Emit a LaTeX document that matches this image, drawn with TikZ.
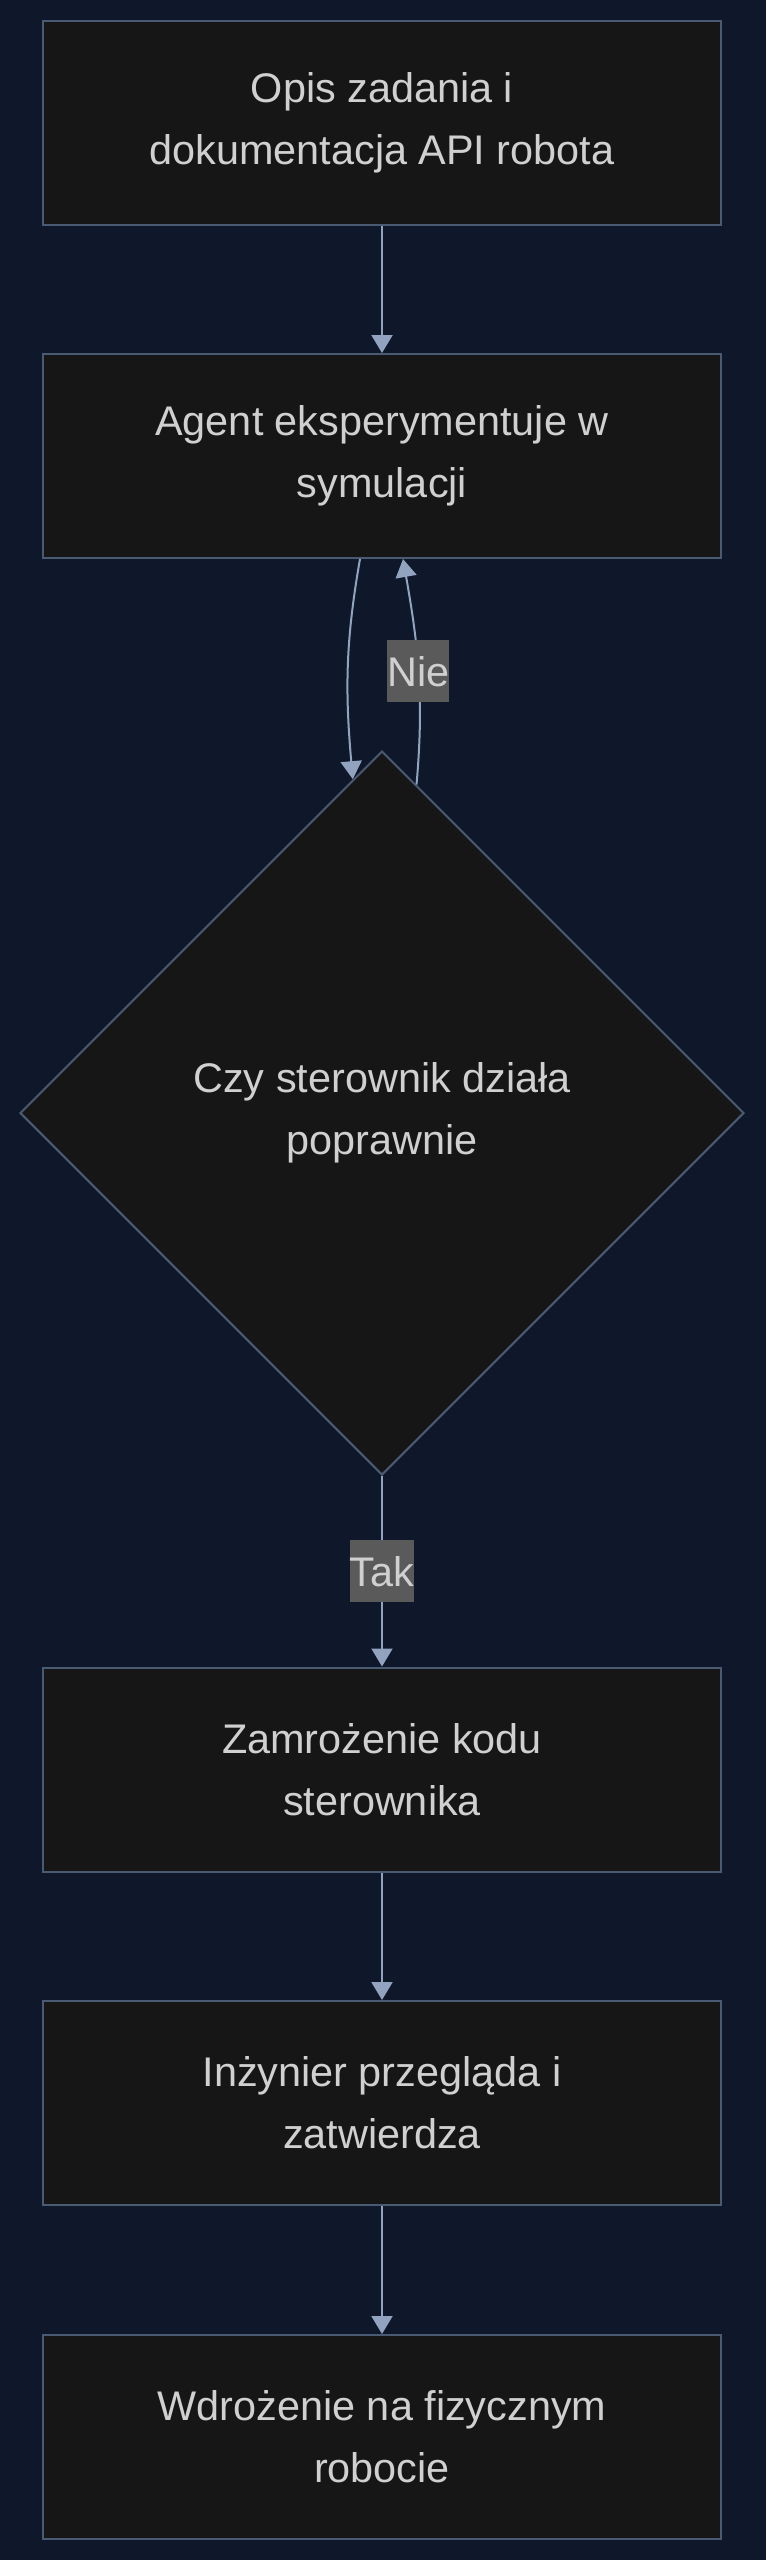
\documentclass[tikz,border=0pt]{standalone}
\usepackage{fontspec}
\setmainfont{Liberation Sans}
\usetikzlibrary{shapes.geometric,arrows.meta}
\definecolor{bgnavy}{HTML}{0F172A}
\definecolor{boxfill}{HTML}{161616}
\definecolor{boxline}{HTML}{4A5A73}
\definecolor{arrline}{HTML}{91A3BF}
\definecolor{txtgray}{HTML}{D0D0D0}
\definecolor{lblfill}{HTML}{5A5A5A}
\begin{document}
\begin{tikzpicture}[x=1pt,y=1pt,
  txt/.style={text=txtgray,font=\fontsize{41.4}{62}\selectfont},
  box/.style={rectangle,draw=boxline,fill=boxfill,line width=2pt,minimum width=678pt,minimum height=204pt,align=center,txt},
  check/.style={diamond,draw=boxline,fill=boxfill,line width=2pt,minimum width=724pt,minimum height=724pt,inner sep=0pt,align=center,txt},
  lbl/.style={fill=lblfill,inner sep=0pt,minimum height=62pt,txt},
  arr/.style={draw=arrline,line width=2pt,-{Triangle[width=21pt,length=18pt]}}]
\fill[bgnavy] (0,0) rectangle (766,-2560);
\node[box] (opis) at (382,-122.5) {Opis zadania i\\dokumentacja API robota};
\node[box] (agent) at (382,-456) {Agent eksperymentuje w\\symulacji};
\node[check] (czy) at (382,-1113) {Czy sterownik działa\\poprawnie};
\node[box] (zamr) at (382,-1769.5) {Zamrożenie kodu\\sterownika};
\node[box] (inz) at (382,-2103) {Inżynier przegląda i\\zatwierdza};
\node[box] (wdr) at (382,-2437) {Wdrożenie na fizycznym\\robocie};
\draw[arr] (opis) -- (agent);
\draw[arr] ([xshift=-22pt]agent.south) to[out=-100,in=95] (czy.95.5);
\draw[arr] (czy.84.5) to[out=85,in=-80] node[lbl] {Nie} ([xshift=21pt]agent.south);
\draw[arr] (czy) -- node[lbl] {Tak} (zamr);
\draw[arr] (zamr) -- (inz);
\draw[arr] (inz) -- (wdr);
\end{tikzpicture}
\end{document}
